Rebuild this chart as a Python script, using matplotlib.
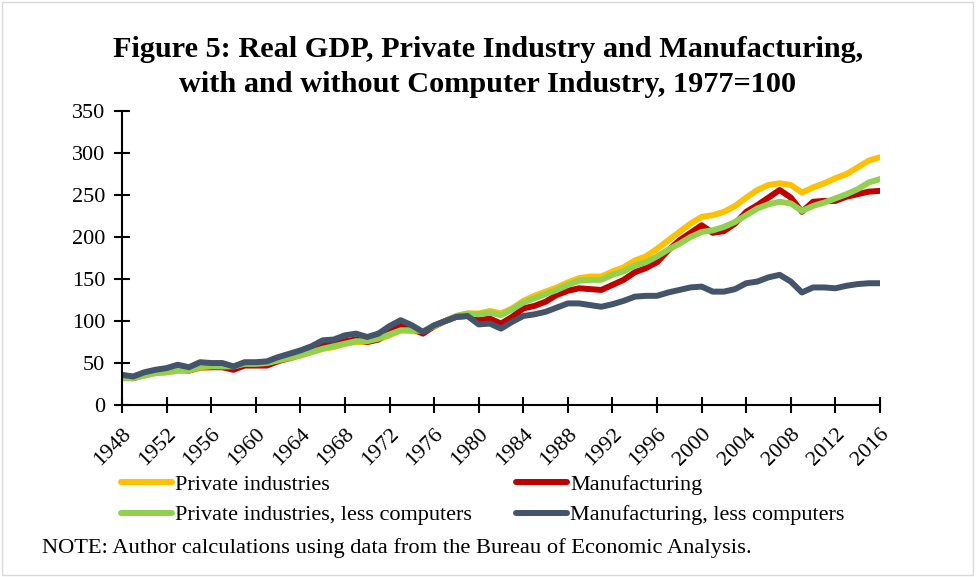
import matplotlib
matplotlib.use("Agg")
import matplotlib.pyplot as plt
from matplotlib.patches import Rectangle
import numpy as np

plt.rcParams["font.family"] = ["Liberation Serif", "DejaVu Serif"]

# ---------------------------------------------------------------------------
# Data (index, 1977=100)
# ---------------------------------------------------------------------------
years = list(range(1948, 2017))

private = [32, 32, 35, 38, 39, 41, 41, 44, 45, 46, 45, 48, 49, 50, 53, 55, 59,
           63, 67, 69, 73, 75, 75, 78, 83, 89, 88, 87, 93, 100, 106, 109, 109,
           112, 109, 115, 124, 130, 135, 140, 146, 151, 153, 153, 159, 164,
           172, 177, 186, 196, 206, 216, 224, 226, 230, 237, 247, 256, 262,
           264, 262, 253, 259, 264, 270, 275, 283, 291, 295]

manufacturing = [33, 32, 36, 39, 40, 43, 41, 45, 45, 45, 42, 47, 47, 47, 52,
                 56, 60, 66, 72, 72, 76, 78, 75, 78, 87, 96, 91, 85, 94, 100,
                 105, 106, 101, 103, 97, 105, 115, 118, 123, 131, 136, 139,
                 138, 137, 143, 149, 158, 163, 170, 184, 196, 205, 214, 205,
                 207, 216, 230, 238, 247, 256, 247, 230, 242, 243, 243, 248,
                 251, 254, 255]

private_less = [32, 32, 35, 38, 39, 41, 41, 45, 46, 46, 46, 49, 49, 50, 53, 56,
                59, 63, 67, 70, 73, 76, 76, 79, 84, 89, 89, 88, 94, 100, 106,
                109, 108, 110, 107, 114, 122, 127, 132, 137, 143, 148, 149,
                149, 155, 159, 166, 170, 177, 185, 192, 200, 206, 208, 212,
                218, 226, 234, 239, 242, 240, 231, 237, 241, 246, 251, 257,
                265, 269]

manufacturing_less = [36, 34, 39, 42, 44, 48, 45, 51, 50, 50, 46, 51, 51, 52,
                      57, 61, 65, 70, 77, 78, 83, 85, 81, 85, 94, 101, 95, 87,
                      95, 100, 105, 106, 96, 97, 91, 99, 106, 108, 111, 116,
                      121, 121, 119, 117, 120, 124, 129, 130, 130, 134, 137,
                      140, 141, 135, 135, 138, 145, 147, 152, 155, 147, 134,
                      140, 140, 139, 142, 144, 145, 145]

series_labels = ["Private industries", "Manufacturing",
                 "Private industries, less computers",
                 "Manufacturing, less computers"]
series_colors = ["#FFC000", "#C00000", "#92D050", "#44546A"]

x_ticks = list(range(1948, 2017, 4))
y_ticks = list(range(0, 351, 50))

# ---------------------------------------------------------------------------
# Figure
# ---------------------------------------------------------------------------
fig = plt.figure(figsize=(9.76, 5.77), dpi=100)
ax = fig.add_axes([0.125, 0.298, 0.7766, 0.5096])

lines = []
for vals, lab, col in zip([private, manufacturing, private_less, manufacturing_less],
                          series_labels, series_colors):
    ln, = ax.plot(years, vals, color=col, lw=4.3, label=lab,
                  solid_joinstyle="round", solid_capstyle="round")
    lines.append(ln)

ax.set_xlim(1948, 2016)
ax.set_ylim(0, 350)
ax.set_xticks(x_ticks)
ax.set_yticks(y_ticks)
ax.set_xticklabels([str(y) for y in x_ticks], rotation=45, ha="right",
                   rotation_mode="anchor")
ax.tick_params(axis="both", direction="inout", length=12, width=1.5,
               labelsize=16)
ax.tick_params(axis="y", pad=6)
ax.tick_params(axis="x", pad=8)

for side in ["top", "right"]:
    ax.spines[side].set_visible(False)
for side in ["left", "bottom"]:
    ax.spines[side].set_linewidth(1.5)

# title
fig.text(0.5, 0.884, "Figure 5: Real GDP, Private Industry and Manufacturing,\n"
         "with and without Computer Industry, 1977=100",
         ha="center", va="center", fontsize=21.8, fontweight="bold",
         linespacing=1.34)

# legend (two columns, row order as in reference)
leg = fig.legend(handles=[lines[0], lines[2], lines[1], lines[3]],
                 loc="upper left", bbox_to_anchor=(0.124, 0.178), ncol=2,
                 frameon=False, fontsize=16, handlelength=2.3,
                 handletextpad=0.12, columnspacing=2.0, labelspacing=0.45,
                 borderpad=0, borderaxespad=0)

fig.text(0.043, 0.05, "NOTE: Author calculations using data from the Bureau "
         "of Economic Analysis.", ha="left", va="center", fontsize=16.2)

# thin frame around the chart area
fig.patches.append(Rectangle((0.002, 0.003), 0.995, 0.994,
                             transform=fig.transFigure, fill=False,
                             edgecolor="#d9d9d9", lw=1))

fig.savefig("out.png", dpi=100)
